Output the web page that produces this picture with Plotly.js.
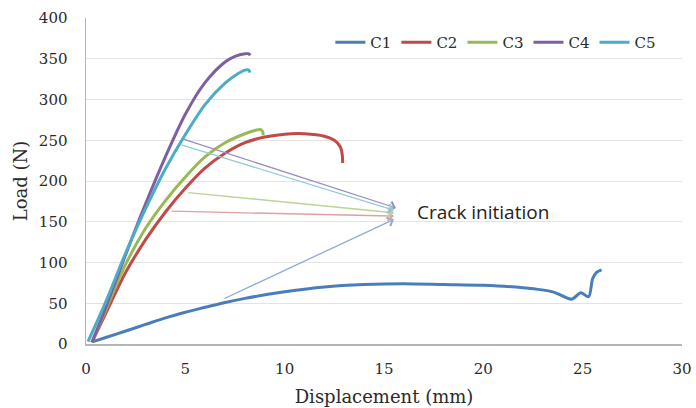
<!DOCTYPE html>
<html>
<head>
<meta charset="utf-8">
<script src="https://cdn.plot.ly/plotly-3.0.1.min.js"></script>
<style>html,body{margin:0;padding:0;background:#fff;}#chart{width:696px;height:408px;}</style>
</head>
<body>
<div id="chart"></div>
<script>
// Series data: displacement (mm) and load (N)
const c1X = [0.35, 1, 2, 3, 4, 5, 6, 7, 8, 10, 12, 14, 16, 18, 20, 22, 23.5, 24.45, 24.9, 25.3, 25.5, 25.7, 25.95];
const c1Y = [3, 8, 16, 24, 32, 39, 45, 51, 56, 64, 70, 73, 74, 73, 72, 69, 64, 55, 63, 58, 80, 88, 91];
const c2X = [0.3, 1, 2, 3, 4, 5, 6, 7, 8, 9, 10, 11, 12, 12.5, 12.8, 12.9, 12.92];
const c2Y = [2, 38, 88, 128, 162, 191, 216, 234, 247, 254, 257.5, 258, 255, 250, 242, 232, 222];
const c3X = [0.3, 1, 2, 3, 4, 5, 6, 7, 8, 8.5, 8.8, 8.9, 8.92];
const c3Y = [2, 42, 98, 142, 176, 205, 230, 247, 258, 262, 263, 260, 256];
const c4X = [0.3, 1, 2, 3, 4, 5, 6, 7, 7.5, 8.0, 8.2, 8.25];
const c4Y = [2, 45, 110, 172, 230, 282, 321, 346, 353, 356, 356, 354];
const c5X = [0.1, 1, 2, 3, 4, 5, 6, 7, 7.6, 8.0, 8.2, 8.25];
const c5Y = [3, 52, 112, 166, 215, 257, 294, 320, 331, 336, 336, 333];
const seriesNames = ["C1", "C2", "C3", "C4", "C5"];
const xTicks = [0, 5, 10, 15, 20, 25, 30];
const yTicks = [0, 50, 100, 150, 200, 250, 300, 350, 400];
// Crack initiation arrows: tail (on curve) and head
const arrowTailX = [6.9, 4.23, 5.07, 4.82, 4.73];
const arrowTailY = [55, 163, 186, 252, 245];
const arrowHeadX = [15.5, 15.5, 15.5, 15.6, 15.5];
const arrowHeadY = [153, 157, 161, 167, 164];
const noteText = "Crack initiation";

const colors = ["#4a7ebb", "#be4b48", "#98b954", "#7d60a0", "#4bacc6"];
const arrowColors = ["#8eaad6", "#dca3a2", "#bcd493", "#9b8cc4", "#96cada"];
const xs = [c1X, c2X, c3X, c4X, c5X];
const ys = [c1Y, c2Y, c3Y, c4Y, c5Y];

const traces = seriesNames.map((n, i) => ({
  x: xs[i], y: ys[i], name: n, type: "scatter", mode: "lines",
  line: {color: colors[i], width: 3, shape: "spline", smoothing: 0.8}
}));

const annotations = arrowTailX.map((tx, i) => ({
  x: arrowHeadX[i], y: arrowHeadY[i], ax: tx, ay: arrowTailY[i],
  xref: "x", yref: "y", axref: "x", ayref: "y",
  showarrow: true, arrowhead: 4, arrowsize: 1.4, arrowwidth: 1.3,
  arrowcolor: arrowColors[i], text: ""
}));
annotations.push({
  x: 16.55, y: 162, xref: "x", yref: "y", text: noteText, showarrow: false,
  xanchor: "left", yanchor: "middle",
  font: {family: "Open Sans, Liberation Sans, sans-serif", size: 19, color: "#222"}
});

const layout = {
  width: 696, height: 408,
  margin: {l: 86, r: 14, t: 18, b: 64},
  paper_bgcolor: "#fff", plot_bgcolor: "#fff",
  font: {family: "DejaVu Serif, serif", size: 15, color: "#2a2a2a"},
  showlegend: true,
  legend: {orientation: "h", x: 0.41, y: 0.925, xanchor: "left", yanchor: "middle",
    font: {family: "DejaVu Serif, serif", size: 15, color: "#2a2a2a"},
    itemwidth: 30, bgcolor: "rgba(0,0,0,0)", tracegroupgap: 0},
  xaxis: {range: [0, 30], tickvals: xTicks, ticktext: xTicks.map(String),
    showgrid: false, zeroline: false, showline: true, linecolor: "#b5b5b5", linewidth: 1.5,
    ticks: "", ticklabelstandoff: 10, tickfont: {size: 15, color: "#2a2a2a"},
    title: {text: "Displacement (mm)", font: {size: 18, color: "#2a2a2a"}, standoff: 14}},
  yaxis: {range: [0, 400], tickvals: yTicks, ticktext: yTicks.map(String),
    showgrid: true, gridcolor: "#e3e3e3", gridwidth: 1, zeroline: false,
    showline: true, linecolor: "#b5b5b5", linewidth: 1.5, ticks: "", ticklabelstandoff: 14,
    tickfont: {size: 15, color: "#2a2a2a"},
    title: {text: "Load (N)", font: {size: 18, color: "#2a2a2a"}, standoff: 6}},
  annotations: annotations
};
Plotly.newPlot("chart", traces, layout, {displayModeBar: false, staticPlot: true});
</script>
</body>
</html>
